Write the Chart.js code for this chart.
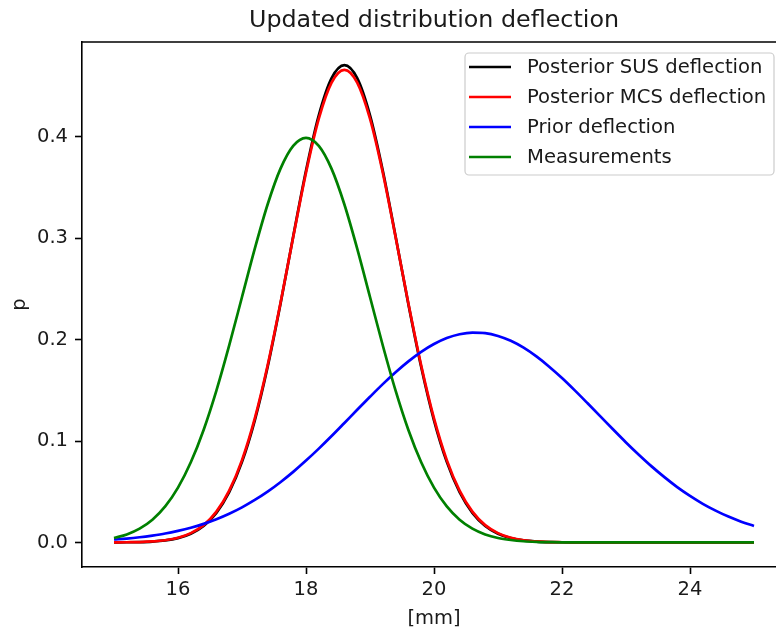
<!DOCTYPE html>
<html>
<head>
<meta charset="utf-8">
<title>Updated distribution deflection</title>
<script src="https://cdn.jsdelivr.net/npm/chart.js@4.4.1/dist/chart.umd.min.js"></script>
<style>
    html, body { margin: 0; padding: 0; background: #fff; overflow: hidden; }
    #chartCanvas { display: block; }
</style>
</head>
<body>
<canvas id="chartCanvas" width="800" height="631"></canvas>
<script>
// Deflection grid [mm]
const xValues = [
    15.0, 15.2, 15.4, 15.6, 15.8, 16.0, 16.2, 16.4, 16.6, 16.8,
    17.0, 17.2, 17.4, 17.6, 17.8, 18.0, 18.2, 18.4, 18.6, 18.8,
    19.0, 19.2, 19.4, 19.6, 19.8, 20.0, 20.2, 20.4, 20.6, 20.8,
    21.0, 21.2, 21.4, 21.6, 21.8, 22.0, 22.2, 22.4, 22.6, 22.8,
    23.0, 23.2, 23.4, 23.6, 23.8, 24.0, 24.2, 24.4, 24.6, 24.8,
    25.0
];

// Densities
const posteriorSUS = [
    0.0001, 0.0002, 0.0004, 0.0009, 0.0020, 0.0043, 0.0086, 0.0163, 0.0292, 0.0495,
    0.0794, 0.1204, 0.1729, 0.2348, 0.3016, 0.3664, 0.4210, 0.4577, 0.4706, 0.4577,
    0.4210, 0.3664, 0.3016, 0.2348, 0.1729, 0.1204, 0.0794, 0.0495, 0.0292, 0.0163,
    0.0086, 0.0043, 0.0020, 0.0009, 0.0004, 0.0002, 0.0001, 0, 0, 0,
    0, 0, 0, 0, 0, 0, 0, 0, 0, 0,
    0
];
const posteriorMCS = [
    0.0001, 0.0002, 0.0004, 0.0010, 0.0022, 0.0046, 0.0092, 0.0171, 0.0304, 0.0511,
    0.0812, 0.1223, 0.1744, 0.2355, 0.3011, 0.3645, 0.4178, 0.4534, 0.4660, 0.4534,
    0.4178, 0.3645, 0.3011, 0.2355, 0.1744, 0.1223, 0.0812, 0.0511, 0.0304, 0.0171,
    0.0092, 0.0046, 0.0022, 0.0010, 0.0004, 0.0002, 0.0001, 0, 0, 0,
    0, 0, 0, 0, 0, 0, 0, 0, 0, 0,
    0
];
const priorDeflection = [
    0.0029, 0.0038, 0.0051, 0.0068, 0.0088, 0.0114, 0.0145, 0.0183, 0.0229, 0.0283,
    0.0346, 0.0419, 0.0501, 0.0594, 0.0696, 0.0807, 0.0925, 0.1049, 0.1178, 0.1308,
    0.1436, 0.1561, 0.1678, 0.1785, 0.1879, 0.1956, 0.2015, 0.2053, 0.2069, 0.2064,
    0.2036, 0.1988, 0.1920, 0.1834, 0.1733, 0.1621, 0.1499, 0.1372, 0.1243, 0.1113,
    0.0986, 0.0865, 0.0750, 0.0644, 0.0546, 0.0459, 0.0381, 0.0314, 0.0255, 0.0205,
    0.0163
];
const measurements = [
    0.0044, 0.0079, 0.0136, 0.0224, 0.0355, 0.0540, 0.0790, 0.1109, 0.1497, 0.1942,
    0.2420, 0.2897, 0.3332, 0.3683, 0.3910, 0.3989, 0.3910, 0.3683, 0.3332, 0.2897,
    0.2420, 0.1942, 0.1497, 0.1109, 0.0790, 0.0540, 0.0355, 0.0224, 0.0136, 0.0079,
    0.0044, 0.0024, 0.0012, 0.0006, 0.0003, 0.0001, 0.0001, 0, 0, 0,
    0, 0, 0, 0, 0, 0, 0, 0, 0, 0,
    0
];

const seriesLabels = ['Posterior SUS deflection', 'Posterior MCS deflection', 'Prior deflection', 'Measurements'];
const xTicks = [16, 18, 20, 22, 24];
const yTicks = [0.0, 0.1, 0.2, 0.3, 0.4];

const FONT = "'DejaVu Sans', sans-serif";
const TEXT = '#1a1a1a';

function toPoints(values) {
    return xValues.map((x, i) => ({ x: x, y: values[i] }));
}

function makeDataset(label, values, color, order) {
    return {
        label: label,
        data: toPoints(values),
        borderColor: color,
        backgroundColor: color,
        borderWidth: 2.7,
        pointRadius: 0,
        fill: false,
        cubicInterpolationMode: 'monotone',
        order: order,
    };
}

// Title, top spine and boxed legend, drawn the way matplotlib does
const framePlugin = {
    id: 'frame',
    afterDraw(chart) {
        const ctx = chart.ctx;
        const area = chart.chartArea;
        ctx.save();

        // top / right spines
        ctx.strokeStyle = '#000';
        ctx.lineWidth = 1.6;
        ctx.beginPath();
        ctx.moveTo(area.left, area.top);
        ctx.lineTo(area.right, area.top);
        ctx.lineTo(area.right, area.bottom);
        ctx.stroke();

        // title centred over the axes
        ctx.fillStyle = TEXT;
        ctx.font = '23.8px ' + FONT;
        ctx.textAlign = 'center';
        ctx.textBaseline = 'alphabetic';
        ctx.fillText('Updated distribution deflection', (area.left + area.right) / 2, 27);

        // legend box
        const bx = 465, by = 53, bw = 309, bh = 122, r = 4;
        ctx.beginPath();
        ctx.moveTo(bx + r, by);
        ctx.arcTo(bx + bw, by, bx + bw, by + bh, r);
        ctx.arcTo(bx + bw, by + bh, bx, by + bh, r);
        ctx.arcTo(bx, by + bh, bx, by, r);
        ctx.arcTo(bx, by, bx + bw, by, r);
        ctx.closePath();
        ctx.fillStyle = 'rgba(255,255,255,0.8)';
        ctx.fill();
        ctx.strokeStyle = '#cccccc';
        ctx.lineWidth = 1.2;
        ctx.stroke();

        ctx.font = '19.6px ' + FONT;
        ctx.textAlign = 'left';
        ctx.textBaseline = 'middle';
        chart.data.datasets.forEach((ds, i) => {
            const y = 67 + i * 30;
            ctx.strokeStyle = ds.borderColor;
            ctx.lineWidth = 2.7;
            ctx.beginPath();
            ctx.moveTo(469, y);
            ctx.lineTo(511, y);
            ctx.stroke();
            ctx.fillStyle = TEXT;
            ctx.fillText(ds.label, 527, y + 1);
        });

        ctx.restore();
    }
};

const chart = new Chart(document.getElementById('chartCanvas'), {
    type: 'line',
    data: {
        datasets: [
            makeDataset(seriesLabels[0], posteriorSUS, '#000000', 4),
            makeDataset(seriesLabels[1], posteriorMCS, '#ff0000', 3),
            makeDataset(seriesLabels[2], priorDeflection, '#0000ff', 2),
            makeDataset(seriesLabels[3], measurements, '#008000', 1),
        ],
    },
    options: {
        responsive: false,
        animation: false,
        devicePixelRatio: 1,
        layout: { padding: { top: 42, right: 14, left: 0, bottom: 0 } },
        plugins: {
            legend: { display: false },
            tooltip: { enabled: false },
            title: { display: false },
        },
        scales: {
            x: {
                type: 'linear',
                min: 14.5,
                max: 25.5,
                afterBuildTicks: (scale) => { scale.ticks = xTicks.map(v => ({ value: v })); },
                afterFit: (scale) => { scale.height = 64; },
                grid: { drawOnChartArea: false, drawTicks: true, tickLength: 7, tickColor: '#000', tickWidth: 1.6 },
                border: { display: true, color: '#000', width: 1.6 },
                ticks: {
                    color: TEXT,
                    font: { family: FONT, size: 19.5 },
                    padding: 4,
                    maxRotation: 0,
                    callback: (v) => String(v),
                },
                title: {
                    display: true,
                    text: '[mm]',
                    color: TEXT,
                    font: { family: FONT, size: 19.5 },
                    padding: { top: 0, bottom: 0 },
                },
            },
            y: {
                type: 'linear',
                min: -0.0242,
                max: 0.4934,
                afterBuildTicks: (scale) => { scale.ticks = yTicks.map(v => ({ value: v })); },
                afterFit: (scale) => { scale.width = 82; },
                grid: { drawOnChartArea: false, drawTicks: true, tickLength: 7, tickColor: '#000', tickWidth: 1.6 },
                border: { display: true, color: '#000', width: 1.6 },
                ticks: {
                    color: TEXT,
                    font: { family: FONT, size: 19.5 },
                    padding: 7,
                    callback: (v) => v.toFixed(1),
                },
                title: {
                    display: true,
                    text: 'p',
                    color: TEXT,
                    font: { family: FONT, size: 19.5 },
                    padding: { top: 8, bottom: 0 },
                },
            },
        },
    },
    plugins: [framePlugin],
});
</script>
</body>
</html>
